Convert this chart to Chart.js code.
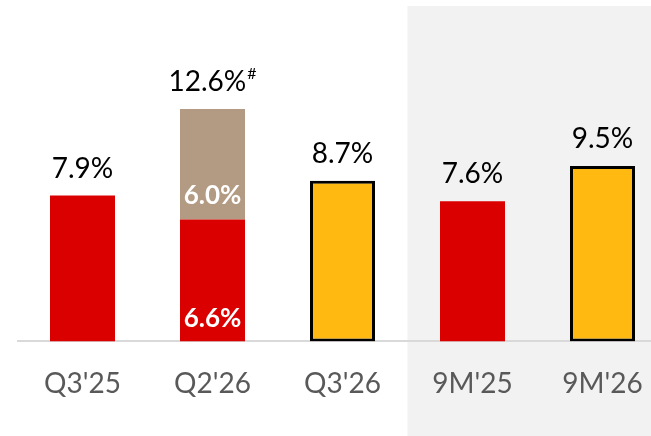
<!DOCTYPE html>
<html>
<head>
<meta charset="utf-8">
<script src="https://cdn.jsdelivr.net/npm/chart.js@4"></script>
<style>
  html, body { margin: 0; padding: 0; background: #ffffff; overflow: hidden; }
  #wrap { width: 670px; height: 436px; position: relative; }
</style>
</head>
<body>
<div id="wrap"><canvas id="chart" width="670" height="436"></canvas></div>
<script>
// donnees
const categories = ["Q3'25", "Q2'26", "Q3'26", "9M'25", "9M'26"];
const baseValues = [7.9, 6.6, 8.7, 7.6, 9.5];
const extraValues = [0, 6.0, 0, 0, 0];
const totalLabels = ["7.9%", "12.6%", "8.7%", "7.6%", "9.5%"];
const footnoteMarks = ["", "#", "", "", ""];
const baseInnerLabels = ["", "6.6%", "", "", ""];
const extraInnerLabels = ["", "6.0%", "", "", ""];
const highlightFrom = 3; // zone grise : 9M'25 et 9M'26

const RED = '#da0000';
const YELLOW = '#ffb910';
const TAUPE = '#b39a82';
const FONT = 'Lato, "Open Sans", sans-serif';

const baseColors = [RED, RED, YELLOW, RED, YELLOW];
const baseBorders = [0, 0, 3, 0, 3];

// fond gris derriere les deux dernieres categories
const panelPlugin = {
  id: 'panel',
  beforeDraw(chart) {
    const ctx = chart.ctx;
    const x = chart.scales.x;
    const step = x.getPixelForValue(1) - x.getPixelForValue(0);
    const left = x.getPixelForValue(highlightFrom) - step / 2;
    ctx.save();
    ctx.fillStyle = '#f2f2f2';
    ctx.fillRect(left, 6, chart.width - left, chart.height - 6);
    ctx.restore();
  }
};

// etiquettes de valeurs
const labelPlugin = {
  id: 'labels',
  afterDatasetsDraw(chart) {
    const ctx = chart.ctx;
    const m0 = chart.getDatasetMeta(0);
    const m1 = chart.getDatasetMeta(1);
    ctx.save();
    ctx.textBaseline = 'alphabetic';
    categories.forEach((c, i) => {
      const b = m0.data[i];
      const top = extraValues[i] > 0 ? m1.data[i].y : b.y;
      ctx.fillStyle = '#000000';
      ctx.font = '16px ' + FONT;
      const wMark = footnoteMarks[i] ? ctx.measureText(footnoteMarks[i]).width + 1 : 0;
      ctx.font = '28px ' + FONT;
      const w = ctx.measureText(totalLabels[i]).width;
      const x0 = b.x - (w + wMark) / 2;
      ctx.textAlign = 'left';
      ctx.fillText(totalLabels[i], x0, top - 18);
      if (footnoteMarks[i]) {
        ctx.font = '16px ' + FONT;
        ctx.fillText(footnoteMarks[i], x0 + w + 1, top - 30);
      }
      ctx.textAlign = 'center';
      ctx.fillStyle = '#ffffff';
      ctx.font = 'bold 26px ' + FONT;
      if (baseInnerLabels[i]) ctx.fillText(baseInnerLabels[i], b.x, b.base - 14);
      if (extraInnerLabels[i]) ctx.fillText(extraInnerLabels[i], b.x, m1.data[i].base - 16);
    });
    ctx.restore();
  }
};

new Chart(document.getElementById('chart'), {
  type: 'bar',
  data: {
    labels: categories,
    datasets: [
      {
        data: baseValues,
        backgroundColor: baseColors,
        borderColor: '#000000',
        borderWidth: baseBorders,
        borderSkipped: false,
        categoryPercentage: 1,
        barPercentage: 0.5
      },
      {
        data: extraValues,
        backgroundColor: TAUPE,
        borderWidth: 0,
        categoryPercentage: 1,
        barPercentage: 0.5
      }
    ]
  },
  plugins: [panelPlugin, labelPlugin],
  options: {
    responsive: false,
    animation: false,
    devicePixelRatio: 1,
    layout: { padding: { left: 17.5, right: 2.5, top: 0, bottom: 9 } },
    plugins: { legend: { display: false }, tooltip: { enabled: false } },
    scales: {
      x: {
        stacked: true,
        grid: { display: false, drawTicks: false },
        border: { display: true, color: '#d9d9d9', width: 2 },
        ticks: { color: '#595959', font: { family: FONT, size: 28 }, padding: 26 }
      },
      y: {
        stacked: true,
        display: false,
        min: 0,
        max: 18.5
      }
    }
  }
});
</script>
</body>
</html>
